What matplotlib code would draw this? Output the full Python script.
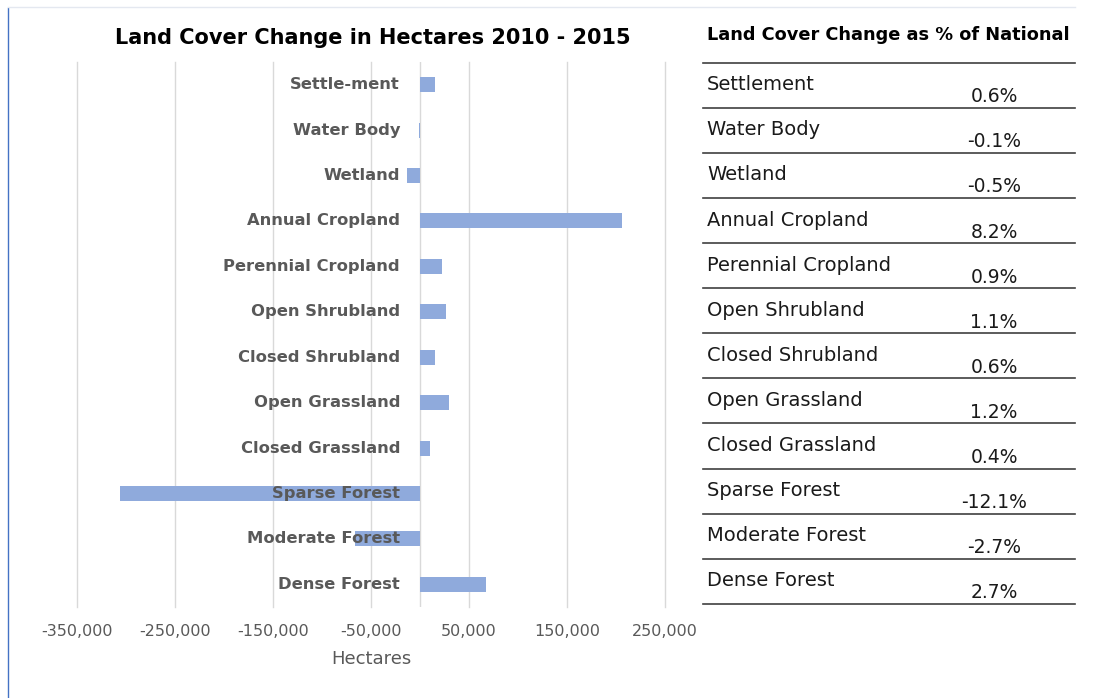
import matplotlib
matplotlib.use("Agg")
import matplotlib.pyplot as plt
from matplotlib.lines import Line2D

# ---------------- data ----------------
categories = ["Settle-ment", "Water Body", "Wetland", "Annual Cropland",
              "Perennial Cropland", "Open Shrubland", "Closed Shrubland",
              "Open Grassland", "Closed Grassland", "Sparse Forest",
              "Moderate Forest", "Dense Forest"]
hectares = [15300, -1500, -13000, 206000, 22400, 26500, 15300, 29600,
            10200, -306000, -66500, 67000]
xticks = [-350000, -250000, -150000, -50000, 50000, 150000, 250000]

table_names = ["Settlement", "Water Body", "Wetland", "Annual Cropland",
               "Perennial Cropland", "Open Shrubland", "Closed Shrubland",
               "Open Grassland", "Closed Grassland", "Sparse Forest",
               "Moderate Forest", "Dense Forest"]
table_pct = [0.6, -0.1, -0.5, 8.2, 0.9, 1.1, 0.6, 1.2, 0.4, -12.1, -2.7, 2.7]

title = "Land Cover Change in Hectares 2010 - 2015"
table_title = "Land Cover Change as % of National"
xlabel = "Hectares"

# ---------------- layout ----------------
W, H = 1104, 698
fig = plt.figure(figsize=(W / 100, H / 100), dpi=100)
FONT = ["DejaVu Sans"]
GRAY = "#595959"
BAR = "#8FAADC"


def fx(px):
    return px / W


def fy(py):
    return 1 - py / H


left, right, top, bottom = 77, 665, 62, 607
ax = fig.add_axes([fx(left), fy(bottom), fx(right - left), (bottom - top) / H])

n = len(categories)
ypos = list(range(n))
ax.barh(ypos, hectares, height=0.33, color=BAR, zorder=2)
ax.set_xlim(-350000, 250000)
ax.set_ylim(n - 0.5, -0.5)
ax.set_xticks(xticks)
ax.set_xticklabels([f"{v:,}" for v in xticks], fontfamily=FONT,
                   fontsize=11.5, color=GRAY)
ax.tick_params(axis="x", length=0, pad=12)
ax.set_yticks([])
ax.grid(axis="x", color="#d9d9d9", linewidth=1, zorder=0)
for gl in ax.get_xgridlines():
    gl.set_clip_on(False)
ax.axvline(0, color="#d9d9d9", linewidth=1, zorder=1)
for s in ax.spines.values():
    s.set_visible(False)
ax.set_xlabel(xlabel, fontfamily=FONT, fontsize=13, color=GRAY, labelpad=8)

for i, lab in enumerate(categories):
    ax.annotate(lab, xy=(0, i), xytext=(-20, 0), textcoords="offset pixels",
                ha="right", va="center", fontfamily=FONT, fontsize=11.8,
                fontweight="bold", color=GRAY, zorder=5, annotation_clip=False)

fig.text(fx(372.5), fy(38), title, ha="center", va="center", fontfamily=FONT,
         fontsize=15, fontweight="bold", color="black")

# ---------------- table ----------------
fig.text(fx(707), fy(35), table_title, ha="left", va="center",
         fontfamily=FONT, fontsize=12.8, fontweight="bold", color="black")
row0, rowh = 62.7, 45.1
tl, tr = 703, 1075
for k in range(n + 1):
    yy = fy(row0 + k * rowh)
    fig.add_artist(Line2D([fx(tl), fx(tr)], [yy, yy], color="#404040",
                          linewidth=1.2))
for k, (nm, p) in enumerate(zip(table_names, table_pct)):
    ytop = row0 + k * rowh
    fig.text(fx(707), fy(ytop + 22), nm, ha="left", va="center",
             fontfamily=FONT, fontsize=14, color="#1a1a1a")
    fig.text(fx(994), fy(ytop + 34), f"{p:.1f}%", ha="center", va="center",
             fontfamily=FONT, fontsize=13.5, color="#1a1a1a")

# frame decorations
fig.add_artist(Line2D([fx(8), fx(8)], [fy(8), 0], color="#4472C4", linewidth=1))
fig.add_artist(Line2D([fx(8), fx(1075)], [fy(7), fy(7)], color="#e4e8f0",
                      linewidth=1))

fig.savefig("out.png", dpi=100)
